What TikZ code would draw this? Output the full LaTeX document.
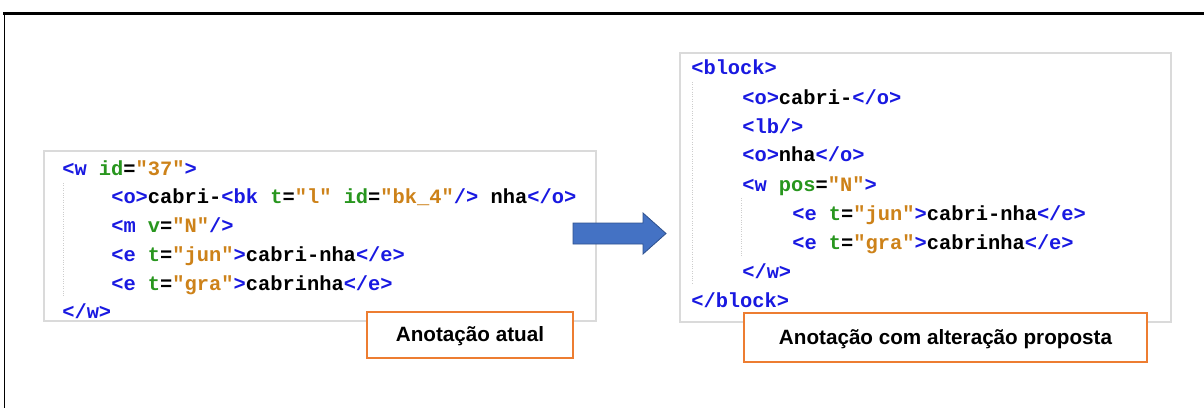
\documentclass[tikz,border=0pt]{standalone}
\usepackage{fontspec}
\usepackage{xcolor}
\usepackage{tikz}
\setmainfont{Liberation Sans}
\newfontfamily\codefont{Liberation Mono}
\definecolor{xmltag}{RGB}{25,25,225}
\definecolor{xmlatt}{RGB}{40,150,30}
\definecolor{xmlval}{RGB}{205,130,25}
\definecolor{boxgray}{RGB}{218,218,218}
\definecolor{guidegray}{RGB}{205,205,205}
\definecolor{noteorange}{RGB}{237,125,49}
\definecolor{arrowblue}{RGB}{68,114,196}
\definecolor{arrowedge}{RGB}{47,82,143}
\newcommand*{\xtag}[1]{\textcolor{xmltag}{#1}}
\newcommand*{\xatt}[1]{\textcolor{xmlatt}{#1}}
\newcommand*{\xval}[1]{\textcolor{xmlval}{#1}}
\tikzset{
  code/.style={anchor=base west,inner sep=0pt,
    font=\codefont\bfseries\fontsize{14.5}{17}\selectfont},
  codebox/.style={draw=boxgray,line width=1.4pt,fill=white},
  guide/.style={guidegray,line width=0.7pt,densely dotted},
  note/.style={draw=noteorange,line width=1.3pt,fill=white,inner sep=0pt,
    font=\bfseries\fontsize{14.7}{17}\selectfont,text depth=0.25ex},
}

\begin{document}
\begin{tikzpicture}[x=0.025cm,y=-0.025cm]
    \useasboundingbox (0,0) rectangle (1204,408);

    % frame
    \draw [line width=1.9pt] (3,13.3) -- (1204,13.3);
    \draw [line width=0.7pt] (4.5,12.5) -- (4.5,408);

    % current annotation
    \draw [codebox] (44,151) rectangle (596,321);
    \draw [guide] (63,183) -- (63,296);
    \node [code] (w1) at (62,175)  {\xtag{<w} \xatt{id}=\xval{"37"}\xtag{>}};
    \node [code] (w2) at (111,203) {\xtag{<o>}cabri-\xtag{<bk} \xatt{t}=\xval{"l"} \xatt{id}=\xval{"bk\_4"}\xtag{/>} nha\xtag{</o>}};
    \node [code] (w3) at (111,232) {\xtag{<m} \xatt{v}=\xval{"N"}\xtag{/>}};
    \node [code] (w4) at (111,261) {\xtag{<e} \xatt{t}=\xval{"jun"}\xtag{>}cabri-nha\xtag{</e>}};
    \node [code] (w5) at (111,290) {\xtag{<e} \xatt{t}=\xval{"gra"}\xtag{>}cabrinha\xtag{</e>}};
    \node [code] (w6) at (62,318)  {\xtag{</w>}};

    % proposed annotation
    \draw [codebox] (680,53) rectangle (1171,322);
    \draw [guide] (692,82) -- (692,284);
    \draw [guide] (741,198) -- (741,256);
    \node [code] (b1) at (691,74)  {\xtag{<block>}};
    \node [code] (b2) at (742,104) {\xtag{<o>}cabri-\xtag{</o>}};
    \node [code] (b3) at (742,133) {\xtag{<lb/>}};
    \node [code] (b4) at (742,161) {\xtag{<o>}nha\xtag{</o>}};
    \node [code] (b5) at (742,191) {\xtag{<w} \xatt{pos}=\xval{"N"}\xtag{>}};
    \node [code] (b6) at (792,220) {\xtag{<e} \xatt{t}=\xval{"jun"}\xtag{>}cabri-nha\xtag{</e>}};
    \node [code] (b7) at (792,249) {\xtag{<e} \xatt{t}=\xval{"gra"}\xtag{>}cabrinha\xtag{</e>}};
    \node [code] (b8) at (742,278) {\xtag{</w>}};
    \node [code] (b9) at (691,307) {\xtag{</block>}};

    % block arrow
    \filldraw [fill=arrowblue,draw=arrowedge,line width=0.6pt]
      (573,223) -- (643,223) -- (643,213) -- (666,233.5)
      -- (643,254) -- (643,244) -- (573,244) -- cycle;

    % captions
    \node [note,minimum width=5.15cm,minimum height=1.15cm] (atual) at (470,335) {Anotação atual};
    \node [note,minimum width=10.07cm,minimum height=1.22cm] (proposta) at (945.5,337.5) {Anotação com alteração proposta};
  \end{tikzpicture}
\end{document}
